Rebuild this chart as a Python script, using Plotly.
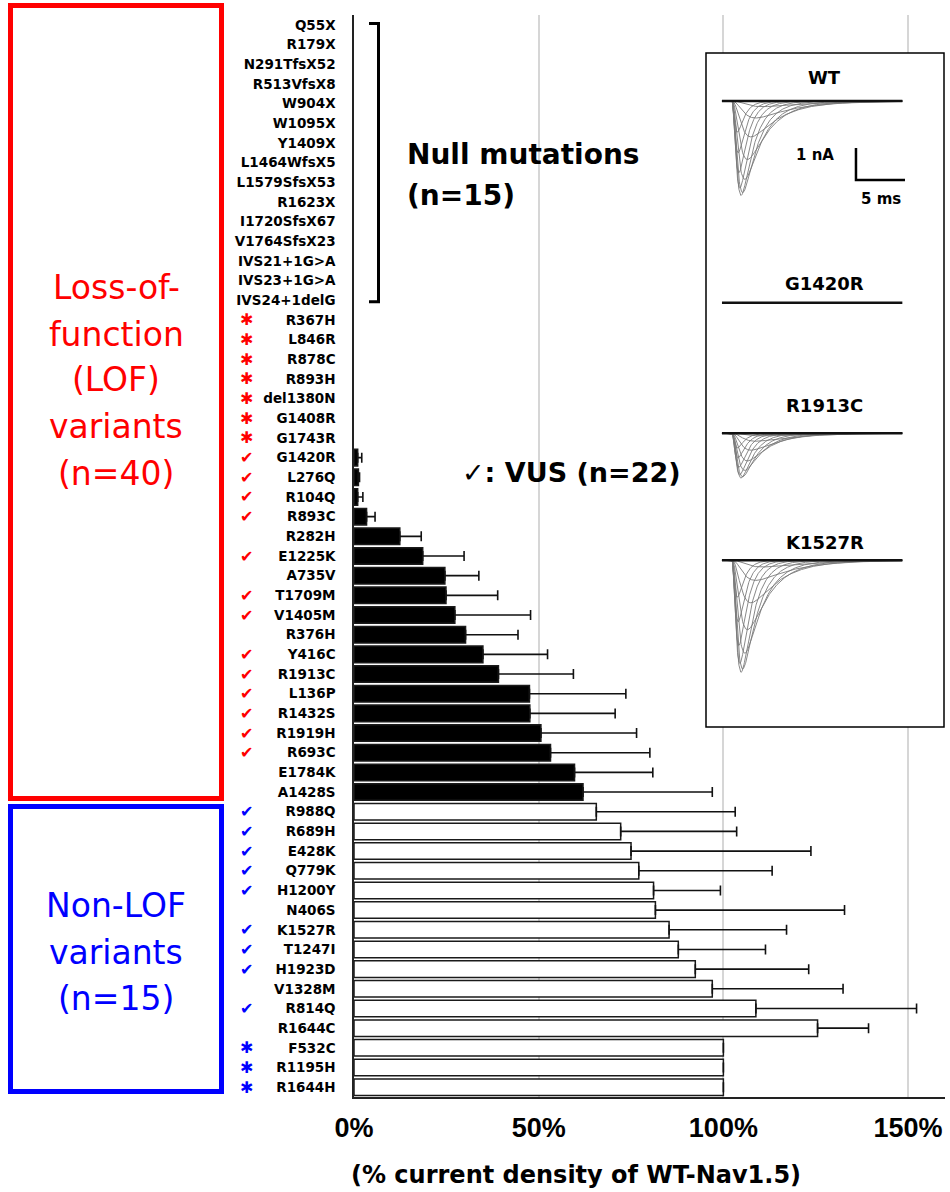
import numpy as np
import plotly.graph_objects as go

# ---------------- data ----------------
variants = [
    "Q55X", "R179X", "N291TfsX52", "R513VfsX8", "W904X", "W1095X", "Y1409X",
    "L1464WfsX5", "L1579SfsX53", "R1623X", "I1720SfsX67", "V1764SfsX23",
    "IVS21+1G>A", "IVS23+1G>A", "IVS24+1delG",
    "R367H", "L846R", "R878C", "R893H", "del1380N", "G1408R", "G1743R",
    "G1420R", "L276Q", "R104Q", "R893C", "R282H", "E1225K", "A735V", "T1709M",
    "V1405M", "R376H", "Y416C", "R1913C", "L136P", "R1432S", "R1919H", "R693C",
    "E1784K", "A1428S",
    "R988Q", "R689H", "E428K", "Q779K", "H1200Y", "N406S", "K1527R", "T1247I",
    "H1923D", "V1328M", "R814Q", "R1644C", "F532C", "R1195H", "R1644H",
]

# % current density of WT-Nav1.5 (None = no bar drawn)
current_pct = [None] * 22 + [
    1.0, 1.2, 1.0, 3.4, 12.4, 18.6, 24.6, 24.9, 27.3, 30.2, 34.9, 39.1, 47.5,
    47.6, 50.6, 53.2, 59.7, 62.0,
    65.6, 72.2, 75.0, 77.1, 81.1, 81.6, 85.3, 87.8, 92.4, 97.0, 108.8, 125.5,
    100.0, 100.0, 100.0,
]
current_err = [None] * 22 + [
    1.1, 0.3, 1.4, 2.3, 5.8, 11.2, 9.2, 14.0, 20.5, 14.2, 17.5, 20.3, 26.1,
    23.1, 25.9, 26.9, 21.2, 35.0,
    37.6, 31.4, 48.7, 36.1, 18.1, 51.2, 31.8, 23.6, 30.7, 35.4, 43.5, 13.8,
    None, None, None,
]
# group: LOF (n=40) / non-LOF (n=15)
group = ["LOF"] * 40 + ["nonLOF"] * 15
# marker: "check" = VUS, "star" = previously reported, "" = none
marker_kind = (
    [""] * 15 + ["star"] * 7 +
    ["check", "check", "check", "check", "", "check", "", "check", "check", "",
     "check", "check", "check", "check", "check", "check", "", ""] +
    ["check", "check", "check", "check", "check", "", "check", "check", "check",
     "", "check", "", "star", "star", "star"]
)

x_ticks = [0, 50, 100, 150]
x_tick_text = ["0%", "50%", "100%", "150%"]

# inset: sodium current trace families
inset_names = ["WT", "G1420R", "R1913C", "K1527R"]
inset_peak_nA = [2.95, 0.0, 1.4, 3.5]
trace_tau_m = [1.2, 0.95, 0.78, 0.65, 0.55, 0.47, 0.41, 0.36, 0.32, 0.29, 0.26]
trace_tau_h = [5.0, 3.8, 2.9, 2.3, 1.85, 1.5, 1.25, 1.05, 0.9, 0.8, 0.7]
trace_rel_amp = [0.06, 0.18, 0.38, 0.62, 0.83, 0.97, 1.0, 0.92, 0.76, 0.55, 0.33]

# ---------------- geometry helpers ----------------
W, H = 950, 1192
L, R, T, B = 354, 5, 15, 95
PW, PH = W - L - R, H - T - B


def PX(px):
    return (px - L) / PW


def PY(py):
    return 1 - (py - T) / PH


RED = "#ff0000"
BLUE = "#0000ff"
BOLD_FONT = "DejaVu Sans"

n = len(variants)
bar_colors = ["black" if g == "LOF" else "white" for g in group]
err_plus = [e if e is not None else 0 for e in current_err]
err_minus = [0] * n

fig = go.Figure()
fig.add_trace(go.Bar(
    y=variants, x=current_pct, orientation="h", width=0.84,
    marker=dict(color=bar_colors, line=dict(color="#1a1a1a", width=1.5)),
    error_x=dict(type="data", array=err_plus, arrayminus=err_minus,
                 symmetric=False, color="#111111", thickness=1.6, width=5),
    showlegend=False, hoverinfo="skip",
))

# ---------------- inset ----------------
ix0, ix1 = -1.63, 22.65          # ms
iy0, iy1 = -21.06, 0.0           # nA
fig.add_trace(go.Scatter(
    x=[ix0, ix1, ix1, ix0, ix0], y=[iy0, iy0, iy1, iy1, iy0],
    fill="toself", fillcolor="white", mode="lines", line=dict(width=0),
    xaxis="x2", yaxis="y2", showlegend=False, hoverinfo="skip"))

baselines = [-1.5, -7.8, -11.88, -15.85]
label_y = [-0.78, -7.19, -11.0, -15.28]
t = np.linspace(0, 18.4, 500)
delay = 1.0
annotations = []
for name, peak, base, ly in zip(inset_names, inset_peak_nA, baselines, label_y):
    if peak > 0:
        for tm, th, ra in zip(trace_tau_m, trace_tau_h, trace_rel_amp):
            tt = np.clip(t - delay, 0, None)
            shape = (1 - np.exp(-tt / tm)) ** 3 * np.exp(-tt / th)
            shape = shape / shape.max()
            fig.add_trace(go.Scatter(
                x=t, y=base - peak * ra * shape, mode="lines",
                line=dict(color="#7a7a7a", width=0.9),
                xaxis="x2", yaxis="y2", showlegend=False, hoverinfo="skip"))
    fig.add_trace(go.Scatter(
        x=[t[0], t[-1]], y=[base, base], mode="lines",
        line=dict(color="#111111", width=2.5),
        xaxis="x2", yaxis="y2", showlegend=False, hoverinfo="skip"))
    annotations.append(dict(x=10.5, y=ly, xref="x2", yref="y2", text=name,
                            showarrow=False, xanchor="center", yanchor="middle",
                            font=dict(family=BOLD_FONT, size=18, color="black",
                                      weight="bold")))

# scale bar 1 nA / 5 ms
sb_x, sb_y = 13.67, -3.97
fig.add_trace(go.Scatter(
    x=[sb_x, sb_x, sb_x + 5], y=[sb_y + 1, sb_y, sb_y], mode="lines",
    line=dict(color="black", width=2.5),
    xaxis="x2", yaxis="y2", showlegend=False, hoverinfo="skip"))
annotations.append(dict(x=9.5, y=-3.19, xref="x2", yref="y2", text="1 nA",
                        showarrow=False, xanchor="center", yanchor="middle",
                        font=dict(family=BOLD_FONT, size=15, color="black",
                                  weight="bold")))
annotations.append(dict(x=16.2, y=-4.55, xref="x2", yref="y2", text="5 ms",
                        showarrow=False, xanchor="center", yanchor="middle",
                        font=dict(family=BOLD_FONT, size=15, color="black",
                                  weight="bold")))

shapes = []
# inset border
shapes.append(dict(type="rect", xref="paper", yref="paper",
                   x0=PX(706), x1=PX(944), y0=PY(727), y1=PY(53),
                   line=dict(color="black", width=1.5), layer="above"))
# group boxes
shapes.append(dict(type="rect", xref="paper", yref="paper",
                   x0=PX(10.5), x1=PX(221.5), y0=PY(798.5), y1=PY(5.5),
                   line=dict(color=RED, width=5)))
shapes.append(dict(type="rect", xref="paper", yref="paper",
                   x0=PX(10.5), x1=PX(221.5), y0=PY(1091.5), y1=PY(806.5),
                   line=dict(color=BLUE, width=5)))
# null-mutation bracket
bx_l, bx_r = PX(369), PX(378.5)
shapes.append(dict(type="path", xref="paper", yref="y",
                   path=f"M {bx_l},-0.07 L {bx_r},-0.07 L {bx_r},14.07 L {bx_l},14.07",
                   line=dict(color="black", width=3)))

# markers beside labels
for v, kind, g in zip(variants, marker_kind, group):
    if not kind:
        continue
    col = RED if g == "LOF" else BLUE
    sym = "✔" if kind == "check" else "✱"
    annotations.append(dict(x=PX(246), y=v, xref="paper", yref="y", text=sym,
                            showarrow=False, xanchor="center", yanchor="middle",
                            font=dict(family="DejaVu Sans", size=16, color=col)))


def ptext(txt, px, py, size, color="black", bold=False, anchor="center"):
    f = dict(family="DejaVu Sans", size=size, color=color)
    if bold:
        f["weight"] = "bold"
    annotations.append(dict(x=PX(px), y=PY(py), xref="paper", yref="paper",
                            text=txt, showarrow=False, xanchor=anchor,
                            yanchor="middle", font=f))


for txt, py in zip(["Loss-of-", "function", "(LOF)", "variants", "(n=40)"],
                   [287, 334, 380, 427, 473]):
    ptext(txt, 116, py, 33, RED)
for txt, py in zip(["Non-LOF", "variants", "(n=15)"], [905, 952, 998]):
    ptext(txt, 116, py, 33, BLUE)

ptext("Null mutations", 405, 155, 28, bold=True, anchor="left")
ptext("(n=15)", 405, 195, 28, bold=True, anchor="left")
ptext("✓: VUS (n=22)", 460, 472, 27, bold=True, anchor="left")
ptext("(% current density of WT-Nav1.5)", 576, 1175, 24, bold=True)

fig.update_layout(
    width=W, height=H,
    margin=dict(l=L, r=R, t=T, b=B),
    paper_bgcolor="white", plot_bgcolor="white",
    xaxis=dict(range=[0, 160], tickvals=x_ticks, ticktext=x_tick_text,
               showgrid=True, gridcolor="#d6d6d6", gridwidth=1.8,
               zeroline=False, showline=True, linecolor="#222222",
               linewidth=1.5, ticks="", ticklabelstandoff=6,
               tickfont=dict(family="Liberation Sans", size=27, color="black",
                             weight="bold"),
               fixedrange=True),
    yaxis=dict(type="category", range=[n - 0.5, -0.5], showgrid=False,
               zeroline=False, showline=True, linecolor="#222222",
               linewidth=1.5, ticks="", ticklabelstandoff=14,
               tickfont=dict(family="DejaVu Sans", size=13.5, color="black",
                             weight="bold"),
               fixedrange=True),
    xaxis2=dict(domain=[PX(706), PX(944)], range=[ix0, ix1], visible=False,
                anchor="y2", fixedrange=True),
    yaxis2=dict(domain=[PY(727), PY(53)], range=[iy0, iy1], visible=False,
                anchor="x2", fixedrange=True),
    shapes=shapes,
    annotations=annotations,
)

fig.write_html("out.html",
               config={"displayModeBar": False},
               post_script="document.body.style.margin='0px';"
                           "document.body.style.padding='0px';")
